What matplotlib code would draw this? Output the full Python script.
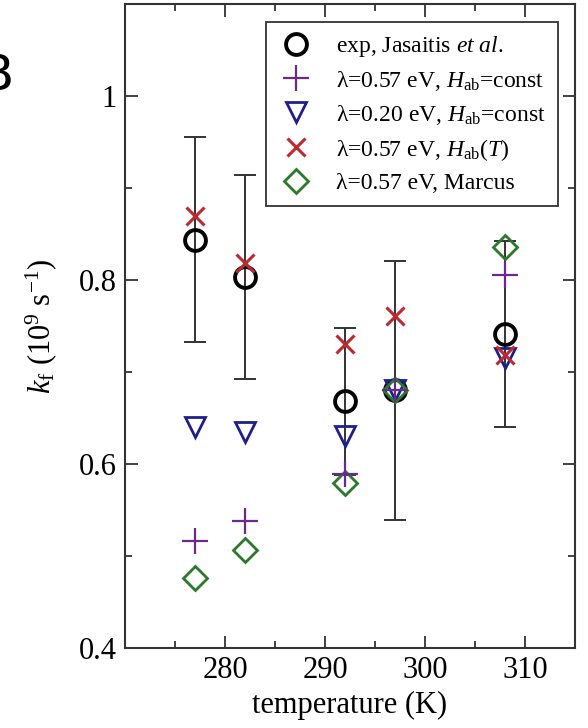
import matplotlib
matplotlib.use("Agg")
import matplotlib.pyplot as plt
from matplotlib.ticker import MultipleLocator

# temperatures (K)
temps = [277, 282, 292, 297, 308]

# experiment, Jasaitis et al.
k_exp = [0.844, 0.803, 0.668, 0.680, 0.741]
k_err = [0.111, 0.111, 0.080, 0.141, 0.101]

# simulations
k_057_const = [0.516, 0.538, 0.589, 0.680, 0.805]
k_020_const = [0.640, 0.635, 0.630, 0.680, 0.715]
k_057_T = [0.870, 0.819, 0.730, 0.761, 0.718]
k_057_marcus = [0.476, 0.507, 0.579, 0.680, 0.836]

labels = [
    r"exp, Jasaitis $\it{et\ al.}$",
    r"λ=0.57 eV, $H_{\rm ab}$=const",
    r"λ=0.20 eV, $H_{\rm ab}$=const",
    r"λ=0.57 eV, $H_{\rm ab}(T)$",
    r"λ=0.57 eV, Marcus",
]

plt.rcParams["font.family"] = ["Liberation Serif", "DejaVu Serif"]
plt.rcParams["mathtext.fontset"] = "custom"
plt.rcParams["mathtext.rm"] = "Liberation Serif"
plt.rcParams["mathtext.it"] = "Liberation Serif:italic"

fig = plt.figure(figsize=(5.88, 7.28), dpi=100)
ax = fig.add_axes([125/588, 1-648/728, 450/588, 644/728])

ax.errorbar(temps, k_exp, yerr=k_err, fmt="none", ecolor="#333333",
            elinewidth=1.4, capsize=8, capthick=1.4, zorder=1)
ax.plot(temps, k_exp, "o", ms=15, mfc="none", mec="black", mew=2.8,
        label=labels[0], zorder=3)
ax.plot(temps, k_057_const, "+", ms=19, mec="#6a2a8a", mew=1.6,
        label=labels[1], zorder=4)
ax.plot(temps, k_020_const, "v", ms=15, mfc="none", mec="#1f1f8a", mew=2.0,
        label=labels[2], zorder=3)
ax.plot(temps, k_057_T, "x", ms=13, mec="#c02830", mew=2.2,
        label=labels[3], zorder=4)
ax.plot(temps, k_057_marcus, "D", ms=12, mfc="none", mec="#2a7a2a", mew=2.0,
        label=labels[4], zorder=3)

ax.set_xlim(270, 315)
ax.set_ylim(0.4, 1.1)
ax.xaxis.set_minor_locator(MultipleLocator(5))
ax.yaxis.set_minor_locator(MultipleLocator(0.1))
ax.set_xticks([280, 290, 300, 310])
ax.set_yticks([0.4, 0.6, 0.8, 1.0])
ax.set_yticklabels(["0.4", "0.6", "0.8", "1"])
ax.tick_params(which="both", direction="in", top=True, right=True,
               labelsize=22, width=1.3, color="#333333")
ax.tick_params(which="major", length=9, pad=6)
ax.tick_params(which="minor", length=5)
for s in ax.spines.values():
    s.set_linewidth(1.5)
    s.set_color("#333333")

ax.set_xlabel("temperature (K)", fontsize=22, labelpad=4)
ax.set_ylabel(r"$k_{\rm f}$ (10$^9$ s$^{-1}$)", fontsize=22, labelpad=14)

leg = ax.legend(loc="upper right", bbox_to_anchor=(0.962, 0.972),
                fontsize=17, frameon=True, fancybox=False, framealpha=1,
                edgecolor="#333333", labelspacing=0.42, handletextpad=0.9,
                handlelength=1.6, borderpad=0.5, borderaxespad=0)
leg.get_frame().set_linewidth(1.3)

fig.text(13/588, 1-90/728, "B", fontsize=36, family="DejaVu Sans",
         ha="right", va="baseline")

fig.savefig("out.png", dpi=100)
